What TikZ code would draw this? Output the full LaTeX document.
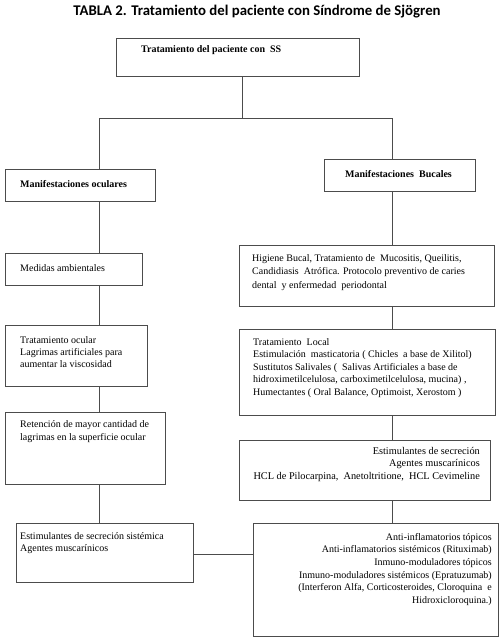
\documentclass[tikz,border=0pt]{standalone}
\usepackage{fontspec}
\setmainfont{Liberation Serif}
\newfontfamily\titlefont{Carlito}
\begin{document}
\begin{tikzpicture}[x=1pt,y=-1pt,
  box/.style={draw=black!70, line width=0.8pt, rectangle, inner sep=0pt, anchor=north west},
  conn/.style={draw=black!70, line width=0.8pt},
  txt/.style={inner sep=0pt, font=\fontsize{10}{12.5}\selectfont},
  btxt/.style={inner sep=0pt, font=\fontsize{10}{12.5}\selectfont\bfseries, anchor=west}]
\useasboundingbox (0,0) rectangle (502,640);
\node[inner sep=0pt, font=\titlefont\bfseries\fontsize{14.8}{17}\selectfont] (title) at (257,12) {TABLA 2. Tratamiento del paciente con Síndrome de Sjögren};
% boxes
\node[box, minimum width=243pt, minimum height=38pt] (top) at (116,38) {};
\node[box, minimum width=150pt, minimum height=32pt] (ocular) at (5,169) {};
\node[box, minimum width=151pt, minimum height=32pt] (bucales) at (324,159) {};
\node[box, minimum width=137pt, minimum height=32pt] (medidas) at (5,253) {};
\node[box, minimum width=255pt, minimum height=61pt] (higiene) at (239,245) {};
\node[box, minimum width=142pt, minimum height=61pt] (tocular) at (5,325) {};
\node[box, minimum width=256pt, minimum height=86pt] (tlocal) at (239,329) {};
\node[box, minimum width=160pt, minimum height=72pt] (retencion) at (5,412) {};
\node[box, minimum width=251pt, minimum height=60pt] (secr) at (239,440) {};
\node[box, minimum width=177pt, minimum height=59pt] (estsist) at (16,523) {};
\node[box, minimum width=245pt, minimum height=113pt] (anti) at (253,523) {};
% texts
\node[btxt] (ttop) at (141,50) {Tratamiento del paciente con~~SS};
\node[btxt] (tocu) at (20,184) {Manifestaciones oculares};
\node[btxt] (tbuc) at (345,174) {Manifestaciones~~Bucales};
\node[txt, anchor=west] (tmed) at (20,268) {Medidas ambientales};
\node[txt, anchor=north west, align=left, font=\fontsize{10}{13.5}\selectfont] (thig) at (252,254) {Higiene Bucal, Tratamiento de~~Mucositis, Queilitis,\\Candidiasis~~Atrófica. Protocolo preventivo de caries\\dental~~y enfermedad~~periodontal};
\node[txt, anchor=north west, align=left, font=\fontsize{10}{12}\selectfont] (ttoc) at (20,336) {Tratamiento ocular\\Lagrimas artificiales para\\aumentar la viscosidad};
\node[txt, anchor=north west, align=left] (tloc) at (253,338) {Tratamiento~~Local\\Estimulación~~masticatoria ( Chicles~~a base de Xilitol)\\Sustitutos Salivales (~~Salivas Artificiales a base de\\hidroximetilcelulosa, carboximetilcelulosa, mucina) ,\\Humectantes ( Oral Balance, Optimoist, Xerostom )};
\node[txt, anchor=north east, align=right, font=\fontsize{10.3}{12.5}\selectfont] (tsec) at (480,447) {Estimulantes de secreción\\Agentes muscarínicos\\HCL de Pilocarpina,~~Anetoltritione,~~HCL Cevimeline};
\node[txt, anchor=north west, align=left, font=\fontsize{10}{13}\selectfont] (tret) at (20,420) {Retención de mayor cantidad de\\lagrimas en la superficie ocular};
\node[txt, anchor=north west, align=left, font=\fontsize{10}{12}\selectfont] (test) at (20,532) {Estimulantes de secreción sistémica\\Agentes muscarínicos};
\node[txt, anchor=north east, align=right, font=\fontsize{10}{12.6}\selectfont] (tant) at (492,533) {Anti-inflamatorios tópicos\\Anti-inflamatorios sistémicos (Rituximab)\\Inmuno-moduladores tópicos\\Inmuno-moduladores sistémicos (Epratuzumab)\\(Interferon Alfa, Corticosteroides, Cloroquina~~e\\Hidroxicloroquina.)};
% connectors
\coordinate (jl) at (99,118);
\coordinate (jr) at (392,118);
\coordinate (hy) at (0,554);
\draw[conn] (top.south -| 242,0) -- (jl -| 242,0);
\draw[conn] (jl) -- (jr);
\draw[conn] (jl) -- (jl |- ocular.north);
\draw[conn] (jr) -- (jr |- bucales.north);
\draw[conn] (ocular.south -| jl) -- (medidas.north -| jl);
\draw[conn] (medidas.south -| jl) -- (tocular.north -| jl);
\draw[conn] (tocular.south -| jl) -- (retencion.north -| jl);
\draw[conn] (retencion.south -| jl) -- (estsist.north -| jl);
\draw[conn] (bucales.south -| jr) -- (higiene.north -| jr);
\draw[conn] (higiene.south -| jr) -- (tlocal.north -| jr);
\draw[conn] (tlocal.south -| jr) -- (secr.north -| jr);
\draw[conn] (secr.south -| jr) -- (anti.north -| jr);
\draw[conn] (estsist.east |- hy) -- (anti.west |- hy);
\end{tikzpicture}
\end{document}
